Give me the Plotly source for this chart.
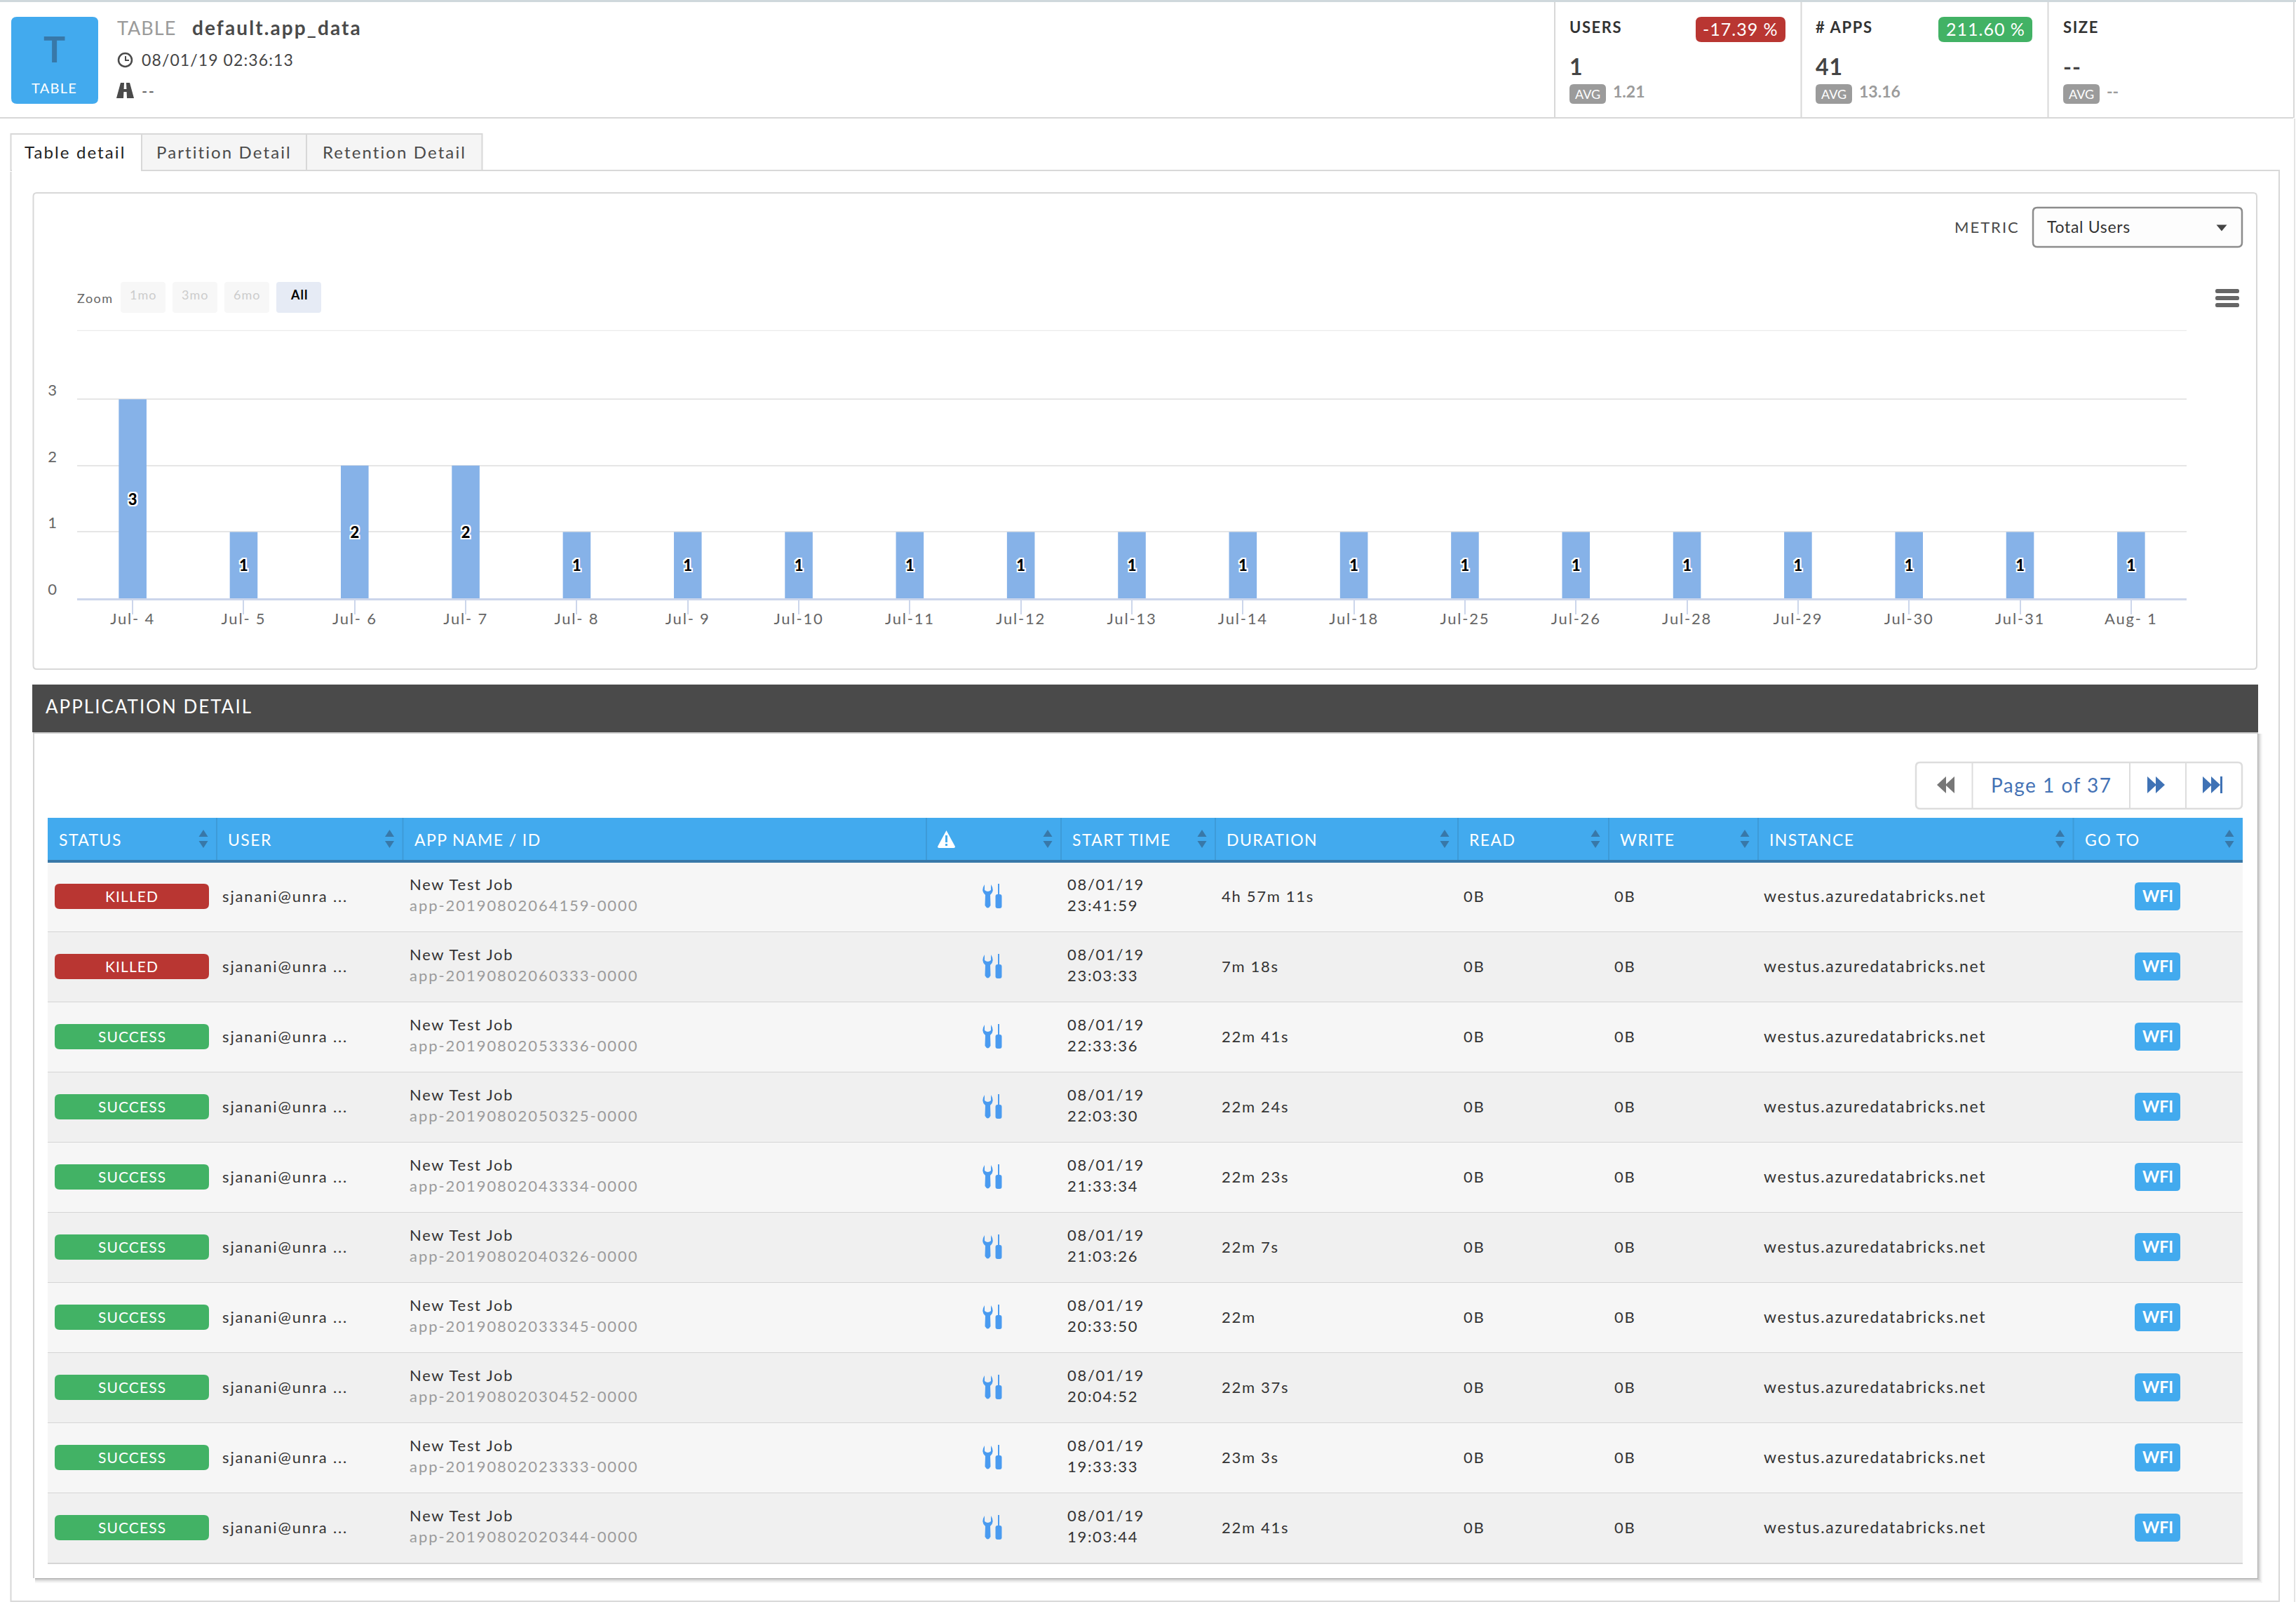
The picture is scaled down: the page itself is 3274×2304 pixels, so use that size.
import plotly.graph_objs as go

# Bar chart values (Total Users per day)
DAYS = ['Jul- 4', 'Jul- 5', 'Jul- 6', 'Jul- 7', 'Jul- 8', 'Jul- 9', 'Jul-10', 'Jul-11', 'Jul-12', 'Jul-13',
        'Jul-14', 'Jul-18', 'Jul-25', 'Jul-26', 'Jul-28', 'Jul-29', 'Jul-30', 'Jul-31', 'Aug- 1']
USERS = [3, 1, 2, 2, 1, 1, 1, 1, 1, 1, 1, 1, 1, 1, 1, 1, 1, 1, 1]

# Application detail table
ROWS = [
    ('KILLED', 'app-20190802064159-0000', '23:41:59', '4h 57m 11s'),
    ('KILLED', 'app-20190802060333-0000', '23:03:33', '7m 18s'),
    ('SUCCESS', 'app-20190802053336-0000', '22:33:36', '22m 41s'),
    ('SUCCESS', 'app-20190802050325-0000', '22:03:30', '22m 24s'),
    ('SUCCESS', 'app-20190802043334-0000', '21:33:34', '22m 23s'),
    ('SUCCESS', 'app-20190802040326-0000', '21:03:26', '22m 7s'),
    ('SUCCESS', 'app-20190802033345-0000', '20:33:50', '22m'),
    ('SUCCESS', 'app-20190802030452-0000', '20:04:52', '22m 37s'),
    ('SUCCESS', 'app-20190802023333-0000', '19:33:33', '23m 3s'),
    ('SUCCESS', 'app-20190802020344-0000', '19:03:44', '22m 41s'),
]
HEADERS = ['STATUS', 'USER', 'APP NAME / ID', '', 'START TIME', 'DURATION', 'READ', 'WRITE', 'INSTANCE', 'GO TO']
COL_EDGES = [68, 309, 574.5, 1321, 1513, 1733, 2079, 2294, 2507, 2956.5, 3198]

W, H = 3274, 2304
FONT = 'Lato'
BLUE = '#42aaee'
DARK_BLUE = '#3878a8'
RED = '#b93632'
GREEN = '#42b265'
GREY = '#9b9b9b'
LINE = '#d8d8d8'

shapes = []
notes = []


def rect(x0, y0, x1, y1, fill=None, line=None, lw=2):
    shapes.append(dict(type='rect', xref='x2', yref='y2', x0=x0, y0=y0, x1=x1, y1=y1,
                       fillcolor=fill or 'rgba(0,0,0,0)',
                       line=dict(color=line or 'rgba(0,0,0,0)', width=lw if line else 0)))


def path(d, fill=None, line=None, lw=2):
    shapes.append(dict(type='path', xref='x2', yref='y2', path=d,
                       fillcolor=fill or 'rgba(0,0,0,0)',
                       line=dict(color=line or 'rgba(0,0,0,0)', width=lw if line else 0)))


def round_rect(x0, y0, x1, y1, r=7, fill=None, line=None, lw=2):
    d = (f'M{x0 + r},{y0} L{x1 - r},{y0} Q{x1},{y0} {x1},{y0 + r} L{x1},{y1 - r} Q{x1},{y1} {x1 - r},{y1} '
         f'L{x0 + r},{y1} Q{x0},{y1} {x0},{y1 - r} L{x0},{y0 + r} Q{x0},{y0} {x0 + r},{y0} Z')
    path(d, fill, line, lw)


def spaced(s, sp):
    # the page sets its text with a little tracking
    return f'<span style="letter-spacing:{sp}px">{s}</span>' if sp else s


def text(x, y, s, size=22, color='#333333', anchor='left', weight=400, sp=1.7):
    notes.append(dict(xref='x2', yref='y2', x=x, y=y, text=spaced(s, sp), showarrow=False, xanchor=anchor,
                      yanchor='middle', borderpad=0, borderwidth=0,
                      font=dict(family=FONT, size=size, color=color, weight=weight)))


def tri(x, y, w, h, up=True, fill=DARK_BLUE):
    tip, base = (y - h / 2, y + h / 2) if up else (y + h / 2, y - h / 2)
    path(f'M{x},{tip} L{x + w / 2},{base} L{x - w / 2},{base} Z', fill)


def double_arrow(cx, cy, color, back=False, stop=False):
    s = -1 if back else 1
    for off in (-12, 0):
        path(f'M{cx + s * off},{cy - 12} L{cx + s * (off + 13)},{cy} L{cx + s * off},{cy + 12} Z', color)
    if stop:
        rect(cx + 13, cy - 12, cx + 16, cy + 12, color)


def wrench(cy):
    c = '#4a9bf0'
    # wrench
    path(f'M1404,{cy - 17} Q1398,{cy - 8} 1405,{cy - 2} L1404.5,{cy + 13} Q1408.5,{cy + 20} 1412.5,{cy + 13} '
         f'L1412,{cy - 2} Q1419,{cy - 8} 1413,{cy - 17} L1413,{cy - 9} Q1408.5,{cy - 5} 1404,{cy - 9} Z', c)
    # screwdriver
    rect(1423, cy - 18, 1425, cy - 3, c)
    round_rect(1419.5, cy - 3, 1428.5, cy + 17, r=3, fill=c)


# ---- page header ----
rect(0, 0, W, 3, '#cfd8dc')
rect(0, 167, 3270, 169, LINE)
for x in (2217, 2568.5, 2920.5, 3271):
    rect(x - 1, 3, x + 1, 168, LINE)
rect(3271, 169, 3273, H - 20, '#e4e4e4')

round_rect(16, 24, 140, 148, r=8, fill=BLUE)
text(77, 69, 'T', 52, DARK_BLUE, 'center', 700, sp=0)
text(77, 125, 'TABLE', 20, 'white', 'center', sp=1.3)
text(167, 39, 'TABLE', 27, GREY, sp=1)
text(274, 39, 'default.app_data', 28, '#4a4a4a', weight=700, sp=2.1)

# clock icon
shapes.append(dict(type='circle', xref='x2', yref='y2', x0=169, y0=76, x1=188, y1=95,
                   line=dict(color='#4a4a4a', width=2.5)))
path('M179,80 L179,86 L184,86', None, '#4a4a4a', 2)
text(202, 85, '08/01/19 02:36:13', 23, '#444444', sp=1.1)
# road icon
path('M172,118 L177,118 L176,140 L166,140 Z', '#4a4a4a')
path('M180,118 L185,118 L191,140 L181,140 Z', '#4a4a4a')
rect(176, 127, 181, 131, '#4a4a4a')
text(202, 129, '--', 22, '#444444')

STATS = [
    (2238, 'USERS', '1', '1.21', '-17.39 %', RED, 2418, 2546),
    (2589, '# APPS', '41', '13.16', '211.60 %', GREEN, 2764, 2898),
    (2942, 'SIZE', '--', '--', None, None, 0, 0),
]
for x, name, val, avg, pct, col, bx0, bx1 in STATS:
    text(x, 38, name, 22, '#333333', weight=700, sp=1.6)
    text(x, 94, val, 32, '#444444', weight=700, sp=1)
    round_rect(x, 120, x + 52, 148, r=6, fill=GREY)
    text(x + 26, 134, 'AVG', 18, 'white', 'center', sp=0)
    text(x + 62, 130, avg, 23, GREY, weight=700, sp=0)
    if pct:
        round_rect(bx0, 24, bx1, 60, r=8, fill=col)
        text((bx0 + bx1) / 2, 41, pct, 25, 'white', 'center', sp=1)

# ---- tabs and outer panel ----
for x0, x1, label, tx, bg, col in [(202, 437, 'Partition Detail', 223, '#f5f5f5', '#4a4a4a'),
                                   (437, 687.5, 'Retention Detail', 460, '#f5f5f5', '#4a4a4a'),
                                   (15.5, 202, 'Table detail', 35, None, '#222222')]:
    rect(x0, 191, x1, 243, bg, LINE, 2)
    text(tx, 216, label, 24, col, sp=2.1)
rect(17, 242, 201, 245, 'white')
path(f'M202,243 L3250,243 L3250,2283 L15.5,2283 L15.5,245', None, LINE, 2)

# ---- chart box ----
round_rect(47.5, 275, 3218, 954, r=5, line=LINE, lw=2)
text(2787, 323, 'METRIC', 22, '#4a4a4a', sp=2)
round_rect(2899, 296, 3197, 352, r=6, fill='#fdfdfd', line='#8c8c8c', lw=2.5)
text(2919, 323, 'Total Users', 23, '#333333', sp=0.7)
tri(3168, 325, 15, 9, up=False, fill='#444444')
for y in (412, 422, 432):
    round_rect(3159, y, 3193, y + 6, r=2.5, fill='#666666')

text(110, 425, 'Zoom', 18, '#666666', sp=1.5)
for x0, label in [(172, '1mo'), (246, '3mo'), (320, '6mo'), (394, 'All')]:
    active = label == 'All'
    round_rect(x0, 402, x0 + 64, 446, r=4, fill='#e6ebf5' if active else '#f7f7f7')
    text(x0 + 32, 420, label, 18, '#000000' if active else '#cccccc', 'center', 700 if active else 400, sp=1)

# ---- application detail card ----
for off, alpha in ((7, 0.06), (5, 0.10), (3, 0.16), (1, 0.25)):
    rect(3219, 1046, 3219 + off, 2250 + off, f'rgba(90,90,90,{alpha})')
    rect(50, 2250, 3219, 2250 + off, f'rgba(90,90,90,{alpha})')
rect(46, 976, 3220, 1044, '#4a4a4a')
rect(47, 1044, 3220, 1046, '#cccccc')
rect(47, 1046, 49, 2250, '#d4d4d4')
text(65, 1007, 'APPLICATION DETAIL', 26, 'white', sp=2)

# pagination
round_rect(2732, 1087, 3197, 1153, r=6, line='#dddddd', lw=2.5)
for x in (2812.5, 3037, 3117):
    rect(x - 1, 1088, x + 1, 1152, '#dddddd')
double_arrow(2775, 1119, '#777777', back=True)
text(2839, 1119, 'Page 1 of 37', 28, '#4472b5', sp=1.5)
double_arrow(3074, 1119, '#3f72b5')
double_arrow(3153, 1119, '#3f72b5', stop=True)

# table header
rect(COL_EDGES[0], 1166, COL_EDGES[-1], 1226, BLUE)
rect(COL_EDGES[0], 1226, COL_EDGES[-1], 1230, DARK_BLUE)
for i, label in enumerate(HEADERS):
    left, right = COL_EDGES[i], COL_EDGES[i + 1]
    if i:
        rect(left - 1, 1166, left + 1, 1226, '#3d9bd8')
    text(left + 16, 1197, label, 23, 'white', sp=1.4)
    if label != 'APP NAME / ID':
        tri(right - 19, 1188, 13, 10, up=True)
        tri(right - 19, 1204, 13, 10, up=False)
# warning icon in the unnamed column
path('M1349.5,1184 L1362,1207 Q1362,1209 1360,1209 L1339,1209 Q1337,1209 1337,1207 Z', 'white')
rect(1348, 1191, 1351, 1201, BLUE)
rect(1348, 1203, 1351, 1206, BLUE)

# table rows
for i, (status, app_id, start, duration) in enumerate(ROWS):
    top = 1230 if i == 0 else 1229 + 100 * i
    bottom = 1229 + 100 * (i + 1)
    cy = 1279 + 100 * i
    rect(COL_EDGES[0], top, COL_EDGES[-1], bottom, '#f6f6f6' if i % 2 == 0 else '#f0f0f0')
    rect(COL_EDGES[0], bottom - 1, COL_EDGES[-1], bottom + 1, '#d5d5d5')
    round_rect(78, cy - 19, 298, cy + 17, r=7, fill=RED if status == 'KILLED' else GREEN)
    text(188, cy - 2, status, 21, 'white', 'center', sp=1.1)
    text(317, cy - 2, 'sjanani@unra ...', 22, '#333333', sp=1.85)
    text(584, cy - 19, 'New Test Job', 22, '#333333')
    text(584, cy + 11, app_id, 22, GREY, sp=1.95)
    wrench(cy - 1)
    text(1522, cy - 19, '08/01/19', 22, '#333333')
    text(1522, cy + 11, start, 22, '#333333')
    text(1742, cy - 2, duration, 22, '#333333')
    text(2087, cy - 2, '0B', 22, '#333333')
    text(2302, cy - 2, '0B', 22, '#333333')
    text(2515, cy - 2, 'westus.azuredatabricks.net', 23, '#333333')
    round_rect(3044, cy - 21, 3109, cy + 19, r=6, fill=BLUE)
    text(3076.5, cy - 2, 'WFI', 23, 'white', 'center', 700, sp=0)

fig = go.Figure(go.Bar(
    x=DAYS, y=USERS, width=0.25, marker=dict(color='#86b2e8', line=dict(width=0)),
    text=USERS, textposition='inside', insidetextanchor='middle', textangle=0, constraintext='none',
    textfont=dict(family=FONT, size=22, color='black', weight=900,
                  shadow='2px 0 0 white, -2px 0 0 white, 0 2px 0 white, 0 -2px 0 white, '
                         '2px 2px 0 white, -2px -2px 0 white, 2px -2px 0 white, -2px 2px 0 white'),
))

Y_ZERO, Y_TOP, UNIT = 853, 470.7, 94.6
y_max = (Y_ZERO - Y_TOP) / UNIT
# the top rule of the chart has no label on it
shapes.append(dict(type='line', xref='x domain', yref='y', x0=0, x1=1, y0=y_max, y1=y_max,
                   line=dict(color='#e6e6e6', width=2)))
fig.update_layout(
    width=W, height=H, margin=dict(l=0, r=0, t=0, b=0, pad=0), autosize=False,
    paper_bgcolor='white', plot_bgcolor='rgba(0,0,0,0)', showlegend=False, hovermode=False,
    font=dict(family=FONT),
    xaxis=dict(domain=[110 / W, 3118 / W], type='category', showgrid=False, zeroline=False,
               tickvals=DAYS, ticktext=[spaced(d, 1.8) for d in DAYS],
               showline=True, linecolor='#ccd6eb', linewidth=3, ticks='outside', ticklen=20,
               tickcolor='#ccd6eb', tickwidth=2, ticklabelstandoff=-12,
               tickfont=dict(family=FONT, size=22, color='#666666')),
    yaxis=dict(domain=[1 - Y_ZERO / H, 1 - Y_TOP / H], range=[0, y_max],
               tickvals=[0, 1, 2, 3], gridcolor='#e6e6e6', gridwidth=2, zeroline=False,
               ticks='', ticklabelstandoff=28, ticklabelshift=-13,
               tickfont=dict(family=FONT, size=22, color='#666666')),
    # page furniture is placed in screen pixels on this hidden pair of axes
    xaxis2=dict(domain=[0, 1], range=[0, W], visible=False, anchor='y2', fixedrange=True),
    yaxis2=dict(domain=[0, 1], range=[H, 0], visible=False, anchor='x2', fixedrange=True),
    shapes=shapes, annotations=notes,
)
# the default page leaves a body margin that would push the figure off its pixel grid
fig.write_html("out.html", config={'displayModeBar': False}, post_script="document.body.style.margin='0';")
